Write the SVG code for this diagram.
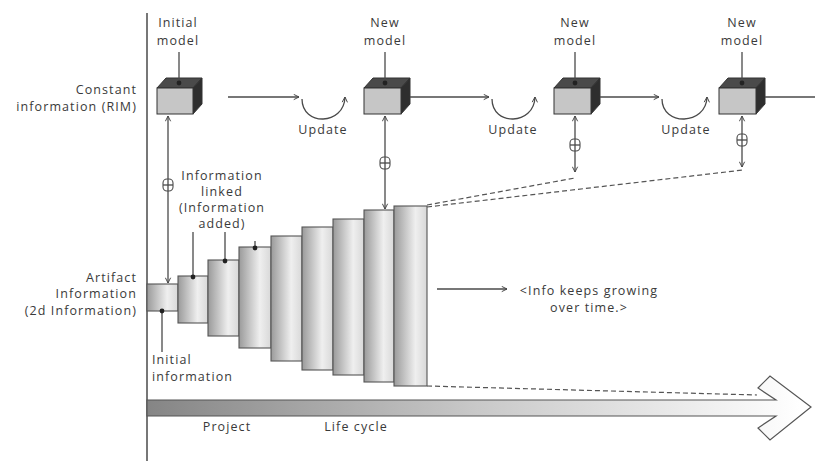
<svg xmlns="http://www.w3.org/2000/svg" width="815" height="461" viewBox="0 0 815 461">
  <style>
    text { font-family: "Open Sans", "Noto Sans", "Liberation Sans", sans-serif; font-size: 12.5px; letter-spacing: 1.1px; fill: #3a3a3a; }
    .mid { text-anchor: middle; }
    .end { text-anchor: end; }
    .ln { stroke: #4a4a4a; stroke-width: 1.3; fill: none; }
    .dash { stroke: #555; stroke-width: 1.2; fill: none; stroke-dasharray: 5 3; }
    .front { fill: #c6c6c6; stroke: #333; stroke-width: 1; }
    .top { fill: #4a4a4a; stroke: #333; stroke-width: 1; }
    .side { fill: #2e2e2e; stroke: #333; stroke-width: 1; }
    .step { fill: url(#stepGrad); stroke: #555; stroke-width: 1.1; }
    .dot { fill: #222; }
    .sym { fill: #fff; stroke: #4a4a4a; stroke-width: 1.1; }
  </style>
  <defs>
    <linearGradient id="stepGrad" x1="0" y1="0" x2="1" y2="0">
      <stop offset="0" stop-color="#9a9a9a"/>
      <stop offset="0.65" stop-color="#efefef"/>
      <stop offset="1" stop-color="#d8d8d8"/>
    </linearGradient>
    <linearGradient id="bandGrad" gradientUnits="userSpaceOnUse" x1="147" y1="0" x2="800" y2="0">
      <stop offset="0" stop-color="#858585"/>
      <stop offset="0.5" stop-color="#c8c8c8"/>
      <stop offset="1" stop-color="#ffffff"/>
    </linearGradient>
    <marker id="arr" viewBox="0 0 8 8" refX="7" refY="4" markerWidth="7" markerHeight="7" markerUnits="userSpaceOnUse" orient="auto-start-reverse">
      <path d="M1,1 L7,4 L1,7" fill="none" stroke="#444" stroke-width="1.1"/>
    </marker>
  </defs>

  <!-- vertical axis -->
  <line x1="147" y1="13" x2="147" y2="461" stroke="#555" stroke-width="1.6"/>

  <!-- row labels -->
  <g id="label-constant">
    <text class="end" x="137" y="94">Constant</text>
    <text class="end" x="137" y="111">information (RIM)</text>
  </g>
  <g id="label-artifact">
    <text class="end" x="137" y="282">Artifact</text>
    <text class="end" x="137" y="298">Information</text>
    <text class="end" x="137" y="315">(2d Information)</text>
  </g>

  <!-- model cubes -->
  <g id="cube-initial">
    <text class="mid" x="178" y="27">Initial</text>
    <text class="mid" x="178" y="45">model</text>
    <polygon class="top" points="157,88 166,78 202,78 193,88"/>
    <polygon class="side" points="193,88 202,78 202,104 193,114"/>
    <rect class="front" x="157" y="88" width="36" height="26"/>
  </g>
  <g id="cube-new-1">
    <text class="mid" x="385" y="27">New</text>
    <text class="mid" x="385" y="45">model</text>
    <polygon class="top" points="364,88 373,78 410,78 401,88"/>
    <polygon class="side" points="401,88 410,78 410,104 401,114"/>
    <rect class="front" x="364" y="88" width="37" height="26"/>
  </g>
  <g id="cube-new-2">
    <text class="mid" x="575" y="27">New</text>
    <text class="mid" x="575" y="45">model</text>
    <polygon class="top" points="554,88 563,78 600,78 591,88"/>
    <polygon class="side" points="591,88 600,78 600,104 591,114"/>
    <rect class="front" x="554" y="88" width="37" height="26"/>
  </g>
  <g id="cube-new-3">
    <text class="mid" x="742" y="27">New</text>
    <text class="mid" x="742" y="45">model</text>
    <polygon class="top" points="719,88 728,78 765,78 756,88"/>
    <polygon class="side" points="756,88 765,78 765,104 756,114"/>
    <rect class="front" x="719" y="88" width="37" height="26"/>
  </g>

  <!-- growing artifact information -->
  <g id="artifact-steps">
    <rect class="step" x="147" y="284" width="31" height="27"/>
    <rect class="step" x="178" y="276" width="30" height="47"/>
    <rect class="step" x="208" y="260" width="31" height="76"/>
    <rect class="step" x="239" y="247" width="32" height="101"/>
    <rect class="step" x="271" y="236" width="31" height="125"/>
    <rect class="step" x="302" y="227" width="31" height="143"/>
    <rect class="step" x="333" y="219" width="31" height="156"/>
    <rect class="step" x="364" y="210" width="30" height="172"/>
    <rect class="step" x="394" y="206" width="33" height="180"/>
  </g>

  <g id="label-linked">
    <text class="mid" x="222" y="180">Information</text>
    <text class="mid" x="222" y="196">linked</text>
    <text class="mid" x="222" y="212">(Information</text>
    <text class="mid" x="222" y="228">added)</text>
  </g>
  <g id="label-initial-info">
    <text x="152" y="364">Initial</text>
    <text x="152" y="381">information</text>
  </g>
  <g id="label-growing">
    <text class="mid" x="589" y="295">&lt;Info keeps growing</text>
    <text class="mid" x="589" y="312">over time.&gt;</text>
  </g>

  <!-- life cycle band -->
  <g id="lifecycle-arrow">
    <path d="M147,400 L776,400 L758,388 L770,376 L811,407 L770,440 L758,428 L776,416 L147,416 Z" fill="url(#bandGrad)" stroke="#555" stroke-width="1.2" stroke-linejoin="miter"/>
    <text class="mid" x="227" y="431">Project</text>
    <text class="mid" x="356" y="431">Life cycle</text>
  </g>

  <!-- connectors -->
  <g id="connectors">
    <!-- label pointers onto cubes -->
    <line class="ln" x1="179" y1="52" x2="179" y2="83"/>
    <circle class="dot" cx="179" cy="83" r="2.4"/>
    <line class="ln" x1="385" y1="52" x2="385" y2="83"/>
    <circle class="dot" cx="385" cy="83" r="2.4"/>
    <line class="ln" x1="575" y1="52" x2="575" y2="83"/>
    <circle class="dot" cx="575" cy="83" r="2.4"/>
    <line class="ln" x1="742" y1="52" x2="742" y2="83"/>
    <circle class="dot" cx="742" cy="83" r="2.4"/>

    <!-- update flow along the model row -->
    <line class="ln" x1="228" y1="97" x2="299" y2="97" marker-end="url(#arr)"/>
    <path class="ln" d="M302,99 C302,126 344,126 345,97" marker-end="url(#arr)"/>
    <text class="mid" x="323" y="134">Update</text>
    <line class="ln" x1="410" y1="97" x2="489" y2="97" marker-end="url(#arr)"/>
    <path class="ln" d="M492,99 C492,126 534,126 535,97" marker-end="url(#arr)"/>
    <text class="mid" x="513" y="134">Update</text>
    <line class="ln" x1="600" y1="97" x2="659" y2="97" marker-end="url(#arr)"/>
    <path class="ln" d="M662,99 C662,126 706,126 707,97" marker-end="url(#arr)"/>
    <text class="mid" x="686" y="134">Update</text>
    <line class="ln" x1="765" y1="97" x2="815" y2="97"/>

    <!-- links between model and artifact information -->
    <line class="ln" x1="168" y1="116" x2="168" y2="283" marker-start="url(#arr)" marker-end="url(#arr)"/>
    <rect class="sym" x="163" y="179" width="10" height="12" rx="4"/>
    <line class="ln" x1="163" y1="185" x2="173" y2="185"/>
    <line class="ln" x1="168" y1="179" x2="168" y2="191"/>

    <line class="ln" x1="385" y1="116" x2="385" y2="209" marker-start="url(#arr)" marker-end="url(#arr)"/>
    <rect class="sym" x="380" y="157" width="10" height="12" rx="4"/>
    <line class="ln" x1="380" y1="163" x2="390" y2="163"/>
    <line class="ln" x1="385" y1="157" x2="385" y2="169"/>

    <line class="ln" x1="575" y1="116" x2="575" y2="172" marker-start="url(#arr)" marker-end="url(#arr)"/>
    <rect class="sym" x="570" y="139" width="10" height="12" rx="4"/>
    <line class="ln" x1="570" y1="145" x2="580" y2="145"/>
    <line class="ln" x1="575" y1="139" x2="575" y2="151"/>

    <line class="ln" x1="742" y1="116" x2="742" y2="167" marker-start="url(#arr)" marker-end="url(#arr)"/>
    <rect class="sym" x="737" y="134" width="10" height="12" rx="4"/>
    <line class="ln" x1="737" y1="140" x2="747" y2="140"/>
    <line class="ln" x1="742" y1="134" x2="742" y2="146"/>

    <!-- projection of the latest artifact -->
    <line class="dash" x1="427" y1="205" x2="575" y2="178"/>
    <line class="dash" x1="427" y1="207" x2="743" y2="170"/>
    <line class="dash" x1="427" y1="386" x2="757" y2="395"/>

    <!-- linked information pointers -->
    <line class="ln" x1="193" y1="232" x2="193" y2="277"/>
    <circle class="dot" cx="193" cy="277" r="2.4"/>
    <line class="ln" x1="225" y1="232" x2="225" y2="261"/>
    <circle class="dot" cx="225" cy="261" r="2.4"/>
    <line class="ln" x1="255" y1="241" x2="255" y2="248"/>
    <circle class="dot" cx="255" cy="248" r="2.4"/>

    <!-- initial information pointer -->
    <line class="ln" x1="162" y1="311" x2="162" y2="352"/>
    <circle class="dot" cx="162" cy="311" r="2.4"/>

    <!-- growth arrow -->
    <line class="ln" x1="437" y1="289" x2="507" y2="289" marker-end="url(#arr)"/>
  </g>
</svg>
